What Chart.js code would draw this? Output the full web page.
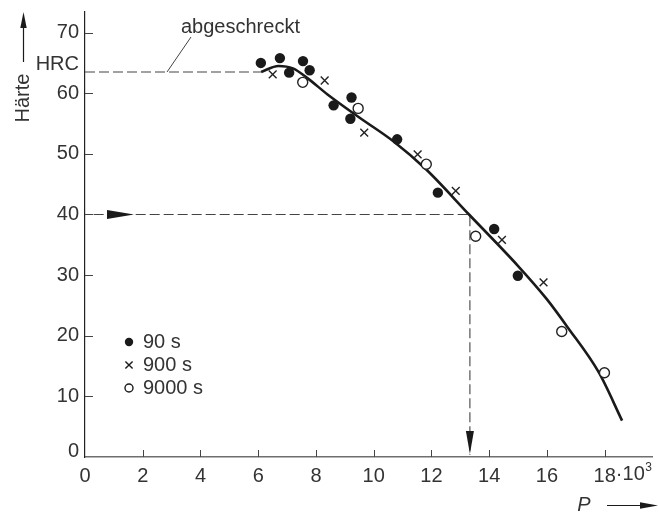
<!DOCTYPE html>
<html>
<head>
<meta charset="utf-8">
<script src="https://cdn.jsdelivr.net/npm/chart.js@4/dist/chart.umd.min.js"></script>
<style>
  html, body { margin: 0; padding: 0; background: #fff; }
  canvas { display: block; }
</style>
</head>
<body>
<canvas id="c" width="659" height="516"></canvas>
<script>
// Tempering parameter P (in 10^3) vs. hardness HRC
const xTicks = [0, 2, 4, 6, 8, 10, 12, 14, 16, 18];
const yTicks = [0, 10, 20, 30, 40, 50, 60, 70];

// 90 s tempering time (filled circles)
const t90P   = [6.09, 6.75, 7.07, 7.55, 7.78, 8.61, 9.23, 9.19, 10.81, 12.22, 14.17, 14.99];
const t90HRC = [65.0, 65.8, 63.4, 65.3, 63.8, 58.0, 59.3, 55.8, 52.4, 43.6, 37.6, 29.9];

// 900 s tempering time (crosses)
const t900P   = [6.50, 8.30, 9.67, 11.52, 12.84, 14.44, 15.88];
const t900HRC = [63.1, 62.1, 53.5, 49.9, 43.9, 35.8, 28.8];

// 9000 s tempering time (open circles)
const t9000P   = [7.54, 9.46, 11.82, 13.53, 16.51, 17.99];
const t9000HRC = [61.8, 57.5, 48.3, 36.4, 20.7, 13.9];

// fitted master curve
const fitP   = [6.1, 6.7, 7.2, 7.7, 8.4, 9.5, 10.7, 11.8, 13.3, 15.0, 16.0, 16.7, 17.8, 18.6];
const fitHRC = [63.5, 64.5, 64.1, 62.5, 59.8, 56.0, 52.0, 47.5, 40.0, 31.5, 26.0, 21.5, 13.9, 6.0];

// reference levels
const quenchedHRC = 63.5;     // as-quenched hardness
const quenchedEndP = 6.1;
const readHRC = 40;           // example reading
const readP = 13.33;

const seriesLabels = ['90 s', '900 s', '9000 s'];

const FONT = '"Liberation Sans", Arial, Helvetica, sans-serif';
const FS = 20;
const TXT = '#333';
const INK = '#1a1a1a';

const pts = (xs, ys) => xs.map((v, i) => ({ x: v, y: ys[i] }));

function arrow(ctx, x0, y0, x1, y1, half) {
  // filled narrow triangle from base (x0,y0) to tip (x1,y1)
  const dx = x1 - x0, dy = y1 - y0, L = Math.hypot(dx, dy);
  const nx = -dy / L * half, ny = dx / L * half;
  ctx.beginPath();
  ctx.moveTo(x1, y1);
  ctx.lineTo(x0 + nx, y0 + ny);
  ctx.lineTo(x0 - nx, y0 - ny);
  ctx.closePath();
  ctx.fill();
}

function noPad(s) {
  s.paddingTop = 0; s.paddingBottom = 0; s.paddingLeft = 0; s.paddingRight = 0;
}

const annotations = {
  id: 'annotations',
  beforeDatasetsDraw(chart) {
    const { ctx, scales: { x, y } } = chart;
    ctx.save();
    ctx.strokeStyle = '#444';
    ctx.fillStyle = INK;
    ctx.lineWidth = 1.1;
    ctx.setLineDash([10, 4]);
    // as-quenched level
    const qy = y.getPixelForValue(quenchedHRC);
    ctx.beginPath();
    ctx.moveTo(x.getPixelForValue(0), qy);
    ctx.lineTo(x.getPixelForValue(quenchedEndP), qy);
    ctx.stroke();
    // reading lines
    const ry = y.getPixelForValue(readHRC);
    const rx = x.getPixelForValue(readP);
    ctx.beginPath();
    ctx.moveTo(x.getPixelForValue(0.3), ry);
    ctx.lineTo(rx, ry);
    ctx.lineTo(rx, y.getPixelForValue(0) - 2);
    ctx.stroke();
    ctx.setLineDash([]);
    arrow(ctx, 107, ry, 134, ry, 4.5);
    arrow(ctx, rx, y.getPixelForValue(0) - 26, rx, y.getPixelForValue(0) - 3, 4);
    // leader to label
    ctx.lineWidth = 1;
    ctx.beginPath();
    ctx.moveTo(167, qy);
    ctx.lineTo(191, 37);
    ctx.stroke();
    ctx.restore();
  },
  afterDraw(chart) {
    const { ctx, scales: { x, y }, chartArea: a } = chart;
    ctx.save();
    // inward tick marks
    ctx.strokeStyle = '#444';
    ctx.lineWidth = 1;
    xTicks.forEach(v => {
      if (v === 0) return;
      const px = Math.round(x.getPixelForValue(v)) + 0.5;
      ctx.beginPath(); ctx.moveTo(px, a.bottom); ctx.lineTo(px, a.bottom - 7); ctx.stroke();
    });
    yTicks.forEach(v => {
      if (v === 0) return;
      const py = Math.round(y.getPixelForValue(v)) + 0.5;
      ctx.beginPath(); ctx.moveTo(a.left, py); ctx.lineTo(a.left + 8, py); ctx.stroke();
    });

    ctx.fillStyle = TXT;
    ctx.font = `${FS}px ${FONT}`;
    // zero on the value axis, sitting on the base line
    ctx.textAlign = 'right';
    ctx.textBaseline = 'alphabetic';
    ctx.fillText('0', a.left - 6, a.bottom - 0.5);
    // unit next to the top tick
    ctx.textBaseline = 'middle';
    ctx.fillText('HRC', a.left - 6, y.getPixelForValue(64.8));
    // ·10³ after the last P tick
    const tx = x.getPixelForValue(18) + ctx.measureText('18').width / 2;
    ctx.textAlign = 'left';
    ctx.textBaseline = 'top';
    const ty = a.bottom + 7;
    ctx.fillText('\u00B710', tx, ty);
    const w10 = ctx.measureText('\u00B710').width;
    ctx.font = `${Math.round(FS * 0.62)}px ${FONT}`;
    ctx.fillText('3', tx + w10 + 0.5, ty - 2);

    // label of the as-quenched line
    ctx.font = `${FS}px ${FONT}`;
    ctx.textBaseline = 'alphabetic';
    ctx.fillText('abgeschreckt', 181, 33);

    // axis title: Härte with arrow
    ctx.save();
    ctx.translate(29, 98);
    ctx.rotate(-Math.PI / 2);
    ctx.textAlign = 'center';
    ctx.fillText('H\u00E4rte', 0, 0);
    ctx.restore();
    ctx.strokeStyle = INK;
    ctx.fillStyle = INK;
    ctx.lineWidth = 1.2;
    ctx.beginPath(); ctx.moveTo(23.5, 62); ctx.lineTo(23.5, 26); ctx.stroke();
    arrow(ctx, 23.5, 28, 23.5, 12, 3.2);

    // axis title: P with arrow
    ctx.fillStyle = TXT;
    ctx.font = `italic ${FS}px ${FONT}`;
    ctx.textAlign = 'center';
    ctx.textBaseline = 'middle';
    ctx.fillText('P', 584, 505);
    ctx.strokeStyle = INK;
    ctx.fillStyle = INK;
    ctx.beginPath(); ctx.moveTo(607, 505.5); ctx.lineTo(644, 505.5); ctx.stroke();
    arrow(ctx, 640, 505.5, 658, 505.5, 3.2);

    // key
    const rows = [342, 365, 388];
    const kx = 129;
    ctx.lineWidth = 1.4;
    // filled circle
    ctx.beginPath(); ctx.arc(kx, rows[0], 4.2, 0, Math.PI * 2); ctx.fill();
    // cross
    const c = 3.6;
    ctx.beginPath();
    ctx.moveTo(kx - c, rows[1] - c); ctx.lineTo(kx + c, rows[1] + c);
    ctx.moveTo(kx + c, rows[1] - c); ctx.lineTo(kx - c, rows[1] + c);
    ctx.stroke();
    // open circle
    ctx.beginPath(); ctx.arc(kx, rows[2], 4, 0, Math.PI * 2); ctx.stroke();
    ctx.fillStyle = TXT;
    ctx.font = `${FS}px ${FONT}`;
    ctx.textAlign = 'left';
    ctx.textBaseline = 'middle';
    seriesLabels.forEach((t, i) => ctx.fillText(t, 143, rows[i]));
    ctx.restore();
  }
};

new Chart(document.getElementById('c'), {
  type: 'scatter',
  data: {
    datasets: [
      {
        label: 'fit',
        data: pts(fitP, fitHRC),
        showLine: true,
        cubicInterpolationMode: 'monotone',
        borderColor: INK,
        borderWidth: 2.6,
        pointRadius: 0,
        order: 5
      },
      {
        label: seriesLabels[0],
        data: pts(t90P, t90HRC),
        pointStyle: 'circle',
        pointRadius: 5.2,
        backgroundColor: INK,
        borderColor: INK,
        borderWidth: 0,
        order: 1
      },
      {
        label: seriesLabels[1],
        data: pts(t900P, t900HRC),
        pointStyle: 'crossRot',
        pointRadius: 5.5,
        borderColor: '#222',
        borderWidth: 1.4,
        order: 1
      },
      {
        label: seriesLabels[2],
        data: pts(t9000P, t9000HRC),
        pointStyle: 'circle',
        pointRadius: 5,
        backgroundColor: '#fff',
        borderColor: '#222',
        borderWidth: 1.4,
        order: 1
      }
    ]
  },
  options: {
    responsive: false,
    animation: false,
    events: [],
    layout: { padding: { left: 0, top: 12, right: 2, bottom: 0 } },
    plugins: { legend: { display: false }, tooltip: { enabled: false } },
    scales: {
      x: {
        type: 'linear',
        min: 0,
        max: 19.64,
        afterFit(s) { s.height = 59; noPad(s); },
        afterBuildTicks(s) { s.ticks = xTicks.map(v => ({ value: v })); },
        grid: { drawOnChartArea: false, drawTicks: false },
        border: { color: '#6f6f6f', width: 1.6 },
        ticks: {
          padding: 7,
          color: TXT,
          font: { family: FONT, size: FS },
          maxRotation: 0,
          autoSkip: false,
          callback: v => String(v)
        }
      },
      y: {
        type: 'linear',
        min: 0,
        max: 73.4,
        afterFit(s) { s.width = 85; noPad(s); },
        afterBuildTicks(s) { s.ticks = yTicks.map(v => ({ value: v })); },
        grid: { drawOnChartArea: false, drawTicks: false },
        border: { color: '#222', width: 1.2 },
        ticks: {
          padding: 6,
          color: TXT,
          font: { family: FONT, size: FS },
          autoSkip: false,
          callback: v => (v === 0 ? '' : String(v))
        }
      }
    }
  },
  plugins: [annotations]
});
</script>
</body>
</html>
